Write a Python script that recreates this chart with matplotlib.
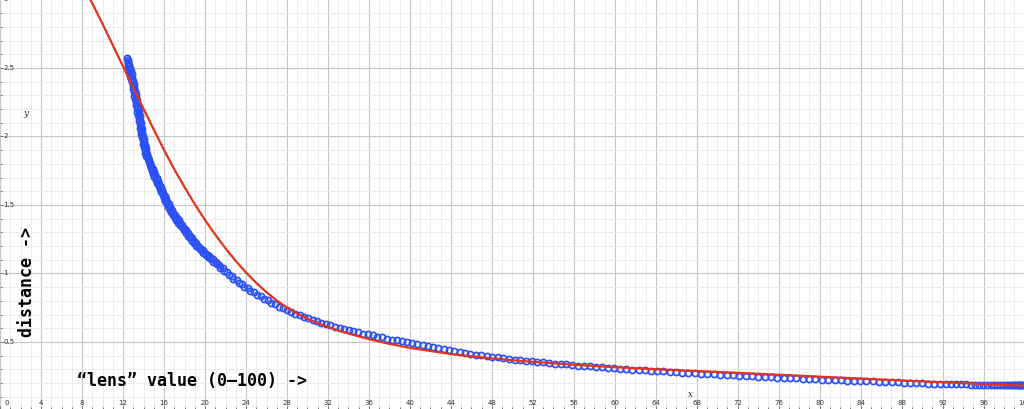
import matplotlib
matplotlib.use("Agg")
import matplotlib.pyplot as plt
from matplotlib.ticker import MultipleLocator

# ---------------- data ----------------
# measured "distance" samples (blue open circles)
blue_x = [
    12.42, 12.44, 12.50, 12.48, 12.58, 12.52,
    12.66, 12.58, 12.74, 12.64, 12.82, 12.71, 12.89, 12.78, 12.96, 12.86, 13.03,
    12.93, 13.11, 12.99, 13.17, 13.05, 13.23, 13.11, 13.29, 13.17, 13.34, 13.22, 13.40, 13.28, 13.46, 13.34, 13.52, 13.40,
    13.58, 13.46, 13.63, 13.51, 13.68, 13.56, 13.73, 13.61, 13.78, 13.66, 13.83, 13.71,
    13.88, 13.76, 13.95, 13.83, 14.01, 13.90, 14.08, 13.96, 14.15, 14.03, 14.21, 14.10,
    14.27, 14.18, 14.37, 14.28, 14.47, 14.38, 14.57, 14.48, 14.67, 14.58, 14.77, 14.68,
    14.87, 14.80, 15.00, 14.93, 15.14, 15.06, 15.27, 15.20, 15.40,
    15.33, 15.53, 15.46, 15.66, 15.59, 15.79, 15.72, 15.92, 15.85, 16.05, 15.97, 16.18, 16.10, 16.31,
    16.24, 16.44, 16.40, 16.59, 16.55, 16.75, 16.71, 16.90, 16.86,
    17.06, 17.03, 17.24, 17.20, 17.41, 17.38, 17.59, 17.55,
    17.75, 17.75, 17.95, 17.95, 18.15, 18.15, 18.35, 18.35,
    18.55, 18.56, 18.75, 18.76, 18.95, 18.96, 19.15, 19.16, 19.35, 19.36,
    19.54, 19.58, 19.78, 19.82, 20.02, 20.06, 20.26, 20.30, 20.50, 20.54,
    20.74, 20.81, 21.03, 21.12, 21.36, 21.47, 21.73, 21.86, 22.14, 22.29,
    22.59, 22.76, 23.07, 23.28, 23.60, 23.83, 24.17, 24.42, 24.78, 25.05,
    25.43, 25.72, 26.10, 26.44, 26.83, 27.19, 27.59, 27.99, 28.40, 28.81,
    29.23, 29.65, 30.07, 30.50, 30.93, 31.36, 31.80, 32.24, 32.68, 33.13,
    33.58, 34.03, 34.49, 34.95, 35.41, 35.88, 36.35, 36.82, 37.30, 37.78,
    38.26, 38.75, 39.24, 39.73, 40.23, 40.73, 41.23, 41.74, 42.25, 42.76,
    43.28, 43.80, 44.32, 44.84, 45.37, 45.90, 46.43, 46.96, 47.50, 48.04,
    48.58, 49.12, 49.67, 50.22, 50.77, 51.32, 51.88, 52.44, 53.00, 53.56,
    54.13, 54.70, 55.27, 55.84, 56.42, 57.00, 57.58, 58.16, 58.75, 59.34,
    59.93, 60.52, 61.12, 61.72, 62.32, 62.92, 63.52, 64.13, 64.74, 65.35,
    65.96, 66.57, 67.19, 67.81, 68.43, 69.05, 69.67, 70.29, 70.91, 71.53,
    72.15, 72.77, 73.39, 74.01, 74.63, 75.25, 75.87, 76.49, 77.11, 77.73,
    78.35, 78.97, 79.59, 80.21, 80.83, 81.45, 82.07, 82.69, 83.31, 83.93,
    84.55, 85.17, 85.79, 86.41, 87.03, 87.64, 88.25, 88.85, 89.45, 90.04,
    90.62, 91.19, 91.75, 92.30, 92.83, 93.34, 93.83, 94.30, 94.75, 95.18,
    95.59, 95.98, 96.35, 96.70, 97.03, 97.34, 97.63, 97.90, 98.15, 98.38,
    98.59, 98.78, 98.95, 99.10, 99.24, 99.37, 99.49, 99.60, 99.70, 99.80,
    99.90, 100.0,
]
blue_y = [
    2.570, 2.558, 2.547, 2.535, 2.523, 2.512,
    2.500, 2.488, 2.476, 2.465, 2.453, 2.441, 2.429, 2.417, 2.405, 2.394, 2.382,
    2.370, 2.358, 2.346, 2.335, 2.323, 2.311, 2.299, 2.288, 2.276, 2.264, 2.252, 2.241, 2.229, 2.217, 2.205, 2.194, 2.182,
    2.170, 2.158, 2.147, 2.135, 2.123, 2.112, 2.100, 2.088, 2.077, 2.065, 2.053, 2.042,
    2.030, 2.018, 2.007, 1.995, 1.983, 1.972, 1.960, 1.948, 1.937, 1.925, 1.913, 1.902,
    1.892, 1.877, 1.870, 1.856, 1.849, 1.834, 1.827, 1.812, 1.805, 1.791, 1.784, 1.769,
    1.763, 1.746, 1.741, 1.724, 1.719, 1.701, 1.696, 1.679, 1.674,
    1.657, 1.652, 1.636, 1.631, 1.614, 1.609, 1.593, 1.588, 1.571, 1.567, 1.550, 1.545, 1.528, 1.524,
    1.506, 1.504, 1.486, 1.484, 1.466, 1.464, 1.446, 1.444, 1.426,
    1.424, 1.407, 1.407, 1.390, 1.389, 1.372, 1.372, 1.355,
    1.354, 1.336, 1.334, 1.316, 1.314, 1.296, 1.294, 1.276,
    1.274, 1.257, 1.256, 1.239, 1.238, 1.221, 1.220, 1.203, 1.202, 1.185,
    1.184, 1.168, 1.168, 1.152, 1.152, 1.136, 1.136, 1.120, 1.120, 1.104,
    1.104, 1.087, 1.084, 1.066, 1.061, 1.042, 1.037, 1.017, 1.011, 0.990,
    0.983, 0.962, 0.953, 0.933, 0.923, 0.903, 0.893, 0.873, 0.863, 0.843,
    0.833, 0.813, 0.803, 0.785, 0.774, 0.758, 0.746, 0.733, 0.719, 0.706,
    0.696, 0.686, 0.675, 0.664, 0.653, 0.642, 0.631, 0.621, 0.612, 0.603,
    0.594, 0.585, 0.577, 0.570, 0.562, 0.555, 0.548, 0.540, 0.533, 0.525,
    0.518, 0.511, 0.504, 0.497, 0.490, 0.483, 0.476, 0.469, 0.462, 0.454,
    0.447, 0.440, 0.433, 0.427, 0.421, 0.414, 0.408, 0.403, 0.397, 0.392,
    0.387, 0.382, 0.377, 0.372, 0.368, 0.363, 0.359, 0.355, 0.351, 0.347,
    0.343, 0.339, 0.336, 0.332, 0.328, 0.325, 0.322, 0.318, 0.315, 0.312,
    0.308, 0.305, 0.302, 0.299, 0.296, 0.293, 0.290, 0.287, 0.285, 0.282,
    0.279, 0.276, 0.274, 0.271, 0.268, 0.266, 0.263, 0.261, 0.258, 0.256,
    0.253, 0.251, 0.249, 0.247, 0.245, 0.243, 0.240, 0.238, 0.236, 0.234,
    0.232, 0.230, 0.228, 0.226, 0.225, 0.223, 0.221, 0.219, 0.217, 0.215,
    0.213, 0.212, 0.210, 0.208, 0.207, 0.205, 0.203, 0.202, 0.200, 0.199,
    0.197, 0.196, 0.195, 0.193, 0.193, 0.192, 0.191, 0.190, 0.189, 0.188,
    0.188, 0.187, 0.187, 0.186, 0.186, 0.185, 0.185, 0.185, 0.185, 0.184,
    0.184, 0.184, 0.183, 0.183, 0.183, 0.183, 0.183, 0.183, 0.183, 0.183,
    0.183, 0.183,
]

# fitted curve (red line)
red_x = [8.0, 8.8, 10, 11, 12, 13, 14, 15, 16, 17,
         18, 19, 20, 21, 22, 23, 24, 25, 26, 27,
         28, 29, 30, 31, 32, 33, 34, 36, 38, 40,
         44, 48, 52, 56, 60, 64, 68, 72, 76, 80,
         84, 88, 92, 96, 100]
red_y = [3.12, 3.00, 2.82, 2.665, 2.51, 2.355, 2.20, 2.05, 1.90, 1.76,
         1.63, 1.505, 1.39, 1.283, 1.183, 1.091, 1.007, 0.931, 0.863, 0.803,
         0.751, 0.707, 0.670, 0.638, 0.610, 0.585, 0.562, 0.521, 0.486, 0.457,
         0.412, 0.380, 0.355, 0.334, 0.316, 0.301, 0.288, 0.275, 0.261, 0.247,
         0.233, 0.219, 0.206, 0.193, 0.181]

x_ticks = list(range(0, 101, 4))
y_ticks = [0.5, 1, 1.5, 2, 2.5, 3]
y_tick_labels = ["0.5", "1", "1.5", "2", "2.5", "3"]

x_label = "\u201clens\u201d value (0\u2013100) ->"
y_label = "distance ->"

# ---------------- figure ----------------
fig = plt.figure(figsize=(10.24, 4.09), dpi=100)
ax = fig.add_axes([0, 0, 1, 1])
ax.set_xlim(-0.02, 99.95)
ax.set_ylim(0.011, 2.996)

ax.xaxis.set_major_locator(MultipleLocator(4))
ax.xaxis.set_minor_locator(MultipleLocator(1))
ax.yaxis.set_major_locator(MultipleLocator(0.5))
ax.yaxis.set_minor_locator(MultipleLocator(0.1))
ax.grid(which="major", color="#c6c6c6", lw=0.8)
ax.grid(which="minor", color="#ececec", lw=0.7)
ax.set_axisbelow(True)
for s in ax.spines.values():
    s.set_visible(False)
ax.tick_params(which="both", direction="in", labelbottom=False, labelleft=False,
               color="#666666", width=0.6)
ax.tick_params(which="major", length=2.3)
ax.tick_params(which="minor", length=1.3)

# blue open circles
ax.plot(blue_x, blue_y, ls="none", marker="o", mfc="none", mec="#2b50f5",
        ms=4.4, mew=1.25, zorder=3)
# red fitted line
ax.plot(red_x, red_y, color="#e5321c", lw=1.6, zorder=4)

# tick labels (drawn inside the plot area, as in the reference)
for v in x_ticks:
    dx = 4.7 if v == 0 else 0
    ax.annotate(str(v), (v, 0), xycoords=("data", "axes fraction"),
                xytext=(dx, 4.3), textcoords="offset points",
                ha="center", va="center", fontsize=5, color="#333333")
for v, lab in zip(y_ticks, y_tick_labels):
    ax.annotate(lab, (0, v), xycoords=("axes fraction", "data"),
                xytext=(2.4, 0), textcoords="offset points",
                ha="left", va="center", fontsize=5, color="#333333")

ax.text(2.54, 2.17, "y", family="DejaVu Serif", style="italic",
        fontsize=6.5, color="#333333", ha="center", va="center")
ax.text(67.36, 0.12, "x", family="DejaVu Serif", style="italic",
        fontsize=6.5, color="#333333", ha="center", va="center")

ax.text(7.5, 0.212, x_label, family="DejaVu Sans Mono", weight="bold",
        fontsize=12, color="black", ha="left", va="center")
ax.text(2.6, 0.935, y_label, family="DejaVu Sans Mono", weight="bold",
        fontsize=12, color="black", ha="center", va="center", rotation=90)

fig.savefig("out.png", dpi=100)
